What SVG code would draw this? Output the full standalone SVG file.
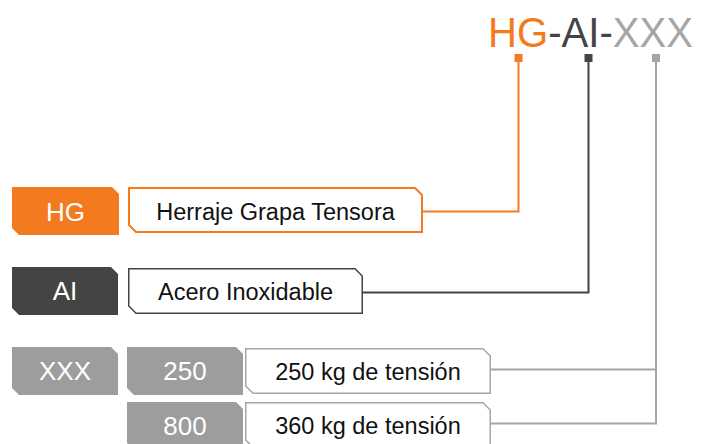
<svg xmlns="http://www.w3.org/2000/svg" width="702" height="444" viewBox="0 0 702 444">
<style>
text{font-family:"Liberation Sans",Arial,sans-serif}
.code{font-size:26px;fill:#fff;text-anchor:middle}
.desc{font-size:23.5px;fill:#111;text-anchor:middle}
.wbox{fill:#fff}
.conn{fill:none}
</style>
<rect width="702" height="444" fill="#fff"/>
<g id="title">
<text x="488" y="47" font-size="43" textLength="205" lengthAdjust="spacingAndGlyphs"><tspan fill="#F47A20">HG</tspan><tspan fill="#444444">-AI-</tspan><tspan fill="#A6A6A6">XXX</tspan></text>
</g>
<g id="connectors">
<path class="conn" d="M423 211.5H518.5V58" stroke="#F47A20" stroke-width="2"/>
<rect x="514.5" y="54" width="8" height="8" fill="#F47A20"/>
<path class="conn" d="M363 292.5H588.5V58" stroke="#444444" stroke-width="2"/>
<rect x="584.5" y="54" width="8" height="8" fill="#444444"/>
<path class="conn" d="M491 369.5H656M491 423.5H656V58" stroke="#A6A6A6" stroke-width="2"/>
<rect x="652" y="54" width="8" height="8" fill="#A6A6A6"/>
</g>
<g id="node-hg">
<path d="M12 187H112L119 194V235H19L12 228Z" fill="#F47A20"/>
<text class="code" x="65.5" y="221">HG</text>
</g>
<g id="node-hg-desc">
<path class="wbox" d="M129 188H415L422 195V232H136L129 225Z" stroke="#F47A20" stroke-width="2"/>
<text class="desc" x="275.5" y="220">Herraje Grapa Tensora</text>
</g>
<g id="node-ai">
<path d="M12 267H111L118 274V315H19L12 308Z" fill="#444444"/>
<text class="code" x="65" y="300">AI</text>
</g>
<g id="node-ai-desc">
<path class="wbox" d="M128.75 268.75H355L362.25 276V313.25H136L128.75 306Z" stroke="#444444" stroke-width="1.5"/>
<text class="desc" x="245.5" y="299.5">Acero Inoxidable</text>
</g>
<g id="node-xxx">
<path d="M12 347H111L118 354V395H19L12 388Z" fill="#9D9D9D"/>
<text class="code" x="65" y="380">XXX</text>
</g>
<g id="node-250">
<path d="M127 347H236L243 354V395H134L127 388Z" fill="#9D9D9D"/>
<text class="code" x="185" y="380">250</text>
</g>
<g id="node-250-desc">
<path class="wbox" d="M245.75 348.75H483L490.25 356V393.25H253L245.75 386Z" stroke="#A6A6A6" stroke-width="1.5"/>
<text class="desc" x="368" y="380">250 kg de tensión</text>
</g>
<g id="node-800">
<path d="M127 402H236L243 409V450H134L127 443Z" fill="#9D9D9D"/>
<text class="code" x="185" y="435">800</text>
</g>
<g id="node-800-desc">
<path class="wbox" d="M245.75 402.75H483L490.25 410V447.25H253L245.75 440Z" stroke="#A6A6A6" stroke-width="1.5"/>
<text class="desc" x="368" y="434">360 kg de tensión</text>
</g>
</svg>
